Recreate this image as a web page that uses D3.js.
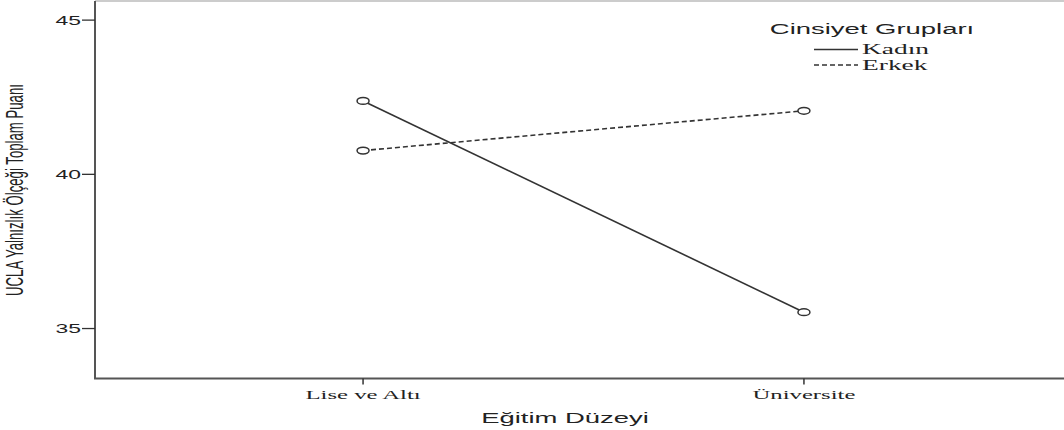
<!DOCTYPE html>
<html>
<head>
<meta charset="utf-8">
<script src="https://cdn.jsdelivr.net/npm/d3@7"></script>
<style>
  html, body { margin: 0; padding: 0; background: #fff; }
  svg { display: block; }
  .sans { font-family: "Liberation Sans", Arial, sans-serif; }
  .serif { font-family: "Liberation Serif", "Times New Roman", serif; }
</style>
</head>
<body>
<div id="chart"></div>
<script>
// data
const levels = ["Lise ve Altı", "Üniversite"];
const groups = ["Kadın", "Erkek"];
const kadin = [42.38, 35.53];
const erkek = [40.77, 42.06];
const yTicks = [35, 40, 45];

const width = 1064, height = 430;
// the original image is stretched horizontally, so text is scaled the same way
const SX = 1.83;

const margin = { top: 1, right: -8, bottom: 51.5, left: 95 };

const xScale = d3.scalePoint()
    .domain(levels)
    .range([margin.left, width - margin.right])
    .padding(0.608);

const yScale = d3.scaleLinear()
    .domain([33.38, 45.62])
    .range([height - margin.bottom, margin.top]);

const series = [
    { name: groups[0], values: kadin, dash: null },
    { name: groups[1], values: erkek, dash: "5,3" }
];

const svg = d3.select("#chart")
    .append("svg")
    .attr("width", width)
    .attr("height", height)
    .attr("viewBox", [0, 0, width, height]);

function stretchText(g, x, y, str, cls, size, anchor) {
    return g.append("text")
        .attr("class", cls)
        .attr("transform", `translate(${x},${y}) scale(${SX},1)`)
        .attr("font-size", size)
        .attr("text-anchor", anchor || "middle")
        .attr("fill", "#222")
        .text(str);
}

// top frame line
svg.append("line")
    .attr("x1", margin.left).attr("x2", width)
    .attr("y1", margin.top).attr("y2", margin.top)
    .attr("stroke", "#bbb")
    .attr("stroke-width", 1.5);

// y axis
const yAxis = svg.append("g");
yAxis.append("line")
    .attr("x1", margin.left).attr("x2", margin.left)
    .attr("y1", margin.top).attr("y2", height - margin.bottom)
    .attr("stroke", "#555").attr("stroke-width", 2);
yAxis.selectAll("line.tick")
    .data(yTicks)
    .join("line")
        .attr("class", "tick")
        .attr("x1", margin.left - 13).attr("x2", margin.left)
        .attr("y1", d => yScale(d)).attr("y2", d => yScale(d))
        .attr("stroke", "#333").attr("stroke-width", 1.3);
yTicks.forEach(d => {
    stretchText(yAxis, margin.left - 14, yScale(d) + 4.5, d, "sans", 12.5, "end");
});

// x axis
const xAxis = svg.append("g");
xAxis.append("line")
    .attr("x1", margin.left - 1).attr("x2", width)
    .attr("y1", height - margin.bottom).attr("y2", height - margin.bottom)
    .attr("stroke", "#555").attr("stroke-width", 2);
xAxis.selectAll("line.tick")
    .data(levels)
    .join("line")
        .attr("class", "tick")
        .attr("x1", d => xScale(d)).attr("x2", d => xScale(d))
        .attr("y1", height - margin.bottom).attr("y2", height - margin.bottom + 6)
        .attr("stroke", "#333").attr("stroke-width", 1.5);
levels.forEach(d => {
    stretchText(xAxis, xScale(d), height - margin.bottom + 20.5, d, "serif", 13.5);
});

// axis titles
stretchText(svg, 565, 423, "Eğitim Düzeyi", "sans", 15);
svg.append("text")
    .attr("class", "sans")
    .attr("transform", `translate(23,190) scale(${SX},1) rotate(-90)`)
    .attr("font-size", 13.2)
    .attr("text-anchor", "middle")
    .attr("fill", "#222")
    .text("UCLA Yalnızlık Ölçeği Toplam Puanı");

// lines
const line = d3.line()
    .x((d, i) => xScale(levels[i]))
    .y(d => yScale(d));

const lines = svg.append("g");
series.forEach(s => {
    lines.append("path")
        .datum(s.values)
        .attr("d", line)
        .attr("fill", "none")
        .attr("stroke", "#333")
        .attr("stroke-width", 1.6)
        .attr("stroke-dasharray", s.dash);
    lines.selectAll(null)
        .data(s.values)
        .join("ellipse")
            .attr("cx", (d, i) => xScale(levels[i]))
            .attr("cy", d => yScale(d))
            .attr("rx", 6)
            .attr("ry", 3.4)
            .attr("fill", "#fff")
            .attr("stroke", "#333")
            .attr("stroke-width", 1.5);
});

// legend
const legend = svg.append("g");
stretchText(legend, 872, 34, "Cinsiyet Grupları", "sans", 15);
series.forEach((s, i) => {
    const y = 49.5 + i * 15.5;
    legend.append("line")
        .attr("x1", 814).attr("x2", 858)
        .attr("y1", y).attr("y2", y)
        .attr("stroke", "#333")
        .attr("stroke-width", 1.4)
        .attr("stroke-dasharray", s.dash);
    stretchText(legend, 862, y + 4.8, s.name, "serif", 15, "start");
});
</script>
</body>
</html>
